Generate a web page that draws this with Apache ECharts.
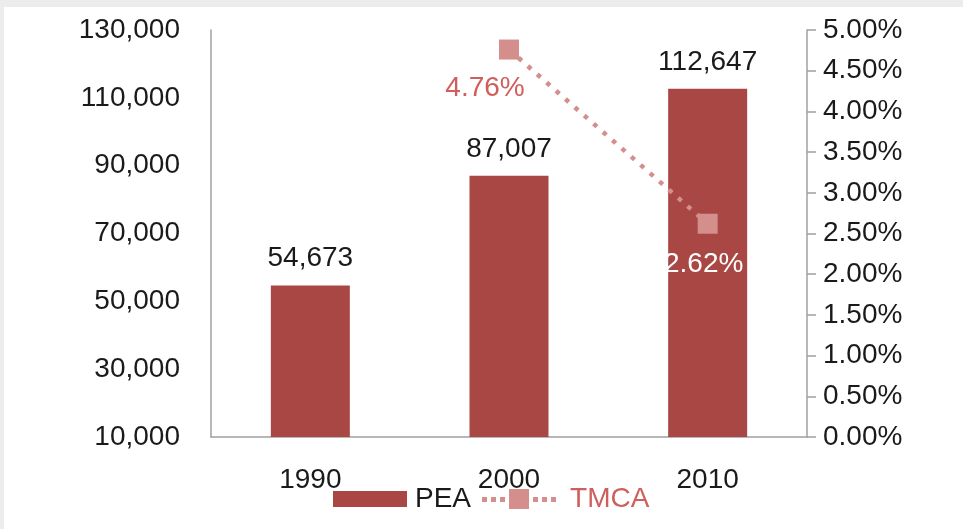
<!DOCTYPE html>
<html>
<head>
<meta charset="utf-8">
<script src="https://cdn.jsdelivr.net/npm/echarts@6/dist/echarts.min.js"></script>
<style>
  html, body { margin: 0; padding: 0; background: #ececec; }
  #main { position: absolute; left: 4px; top: 7px; width: 959px; height: 522px; background: #fff; }
</style>
</head>
<body>
<div id="main"></div>
<script>
// data
const years = ['1990', '2000', '2010'];
const pea = [54673, 87007, 112647];
const tmca = [null, 4.76, 2.62];

const barColor = '#A94744';
const lineColor = '#D48F8D';
const font = 'Liberation Sans, Arial, sans-serif';

// legend icons: plain bar, and dotted line with a square in the middle
const peaIcon = 'path://M0,0h74v16h-74z';
const tmcaIcon = 'path://M0,8h5v5h-5z M9,8h5v5h-5z M18,8h5v5h-5z M27,0h20v20h-20z' +
  ' M51,8h5v5h-5z M60,8h5v5h-5z M69,8h5v5h-5z';

const chart = echarts.init(document.getElementById('main'));

const option = {
  animation: false,
  textStyle: { fontFamily: font },
  grid: { left: 207, right: 156, top: 23, bottom: 92 },
  legend: {
    bottom: 11,
    left: 324,
    itemWidth: 74,
    itemHeight: 20,
    itemGap: 11,
    textStyle: { fontSize: 28, color: '#1a1a1a', fontFamily: font, padding: [0, 0, 0, 3] },
    data: [
      { name: 'PEA', icon: peaIcon },
      { name: 'TMCA', icon: tmcaIcon, textStyle: { color: '#CF5F5C', padding: [0, 0, 0, 9] } }
    ]
  },
  xAxis: {
    type: 'category',
    data: years,
    axisLine: { lineStyle: { color: '#a0a0a0', width: 1.5 } },
    axisTick: { show: false },
    axisLabel: { fontSize: 28, color: '#1a1a1a', margin: 29 }
  },
  yAxis: [
    {
      type: 'value',
      min: 10000,
      max: 130000,
      interval: 20000,
      splitLine: { show: false },
      axisLine: { show: true, lineStyle: { color: '#a0a0a0', width: 1.5 } },
      axisTick: { show: false },
      axisLabel: {
        fontSize: 28,
        color: '#1a1a1a',
        margin: 31,
        formatter: v => v.toLocaleString('en-US')
      }
    },
    {
      type: 'value',
      min: 0,
      max: 5,
      interval: 0.5,
      position: 'right',
      splitLine: { show: false },
      axisLine: { show: true, lineStyle: { color: '#a0a0a0', width: 1.5 } },
      axisTick: { show: true, length: 9, lineStyle: { color: '#a0a0a0', width: 1.5 } },
      axisLabel: {
        fontSize: 28,
        color: '#1a1a1a',
        margin: 16,
        formatter: v => v.toFixed(2) + '%'
      }
    }
  ],
  series: [
    {
      name: 'PEA',
      type: 'bar',
      data: pea,
      barWidth: 79,
      itemStyle: { color: barColor },
      label: {
        show: true,
        position: 'top',
        distance: 13,
        fontSize: 28,
        color: '#1a1a1a',
        formatter: p => p.value.toLocaleString('en-US')
      }
    },
    {
      name: 'TMCA',
      type: 'line',
      yAxisIndex: 1,
      data: [
        tmca[0],
        { value: tmca[1], label: { color: '#CF5F5C', offset: [-24, 0] } },
        { value: tmca[2], label: { color: '#ffffff', offset: [-4, 2] } }
      ],
      symbol: 'rect',
      symbolSize: 20,
      showSymbol: true,
      itemStyle: { color: lineColor },
      lineStyle: { color: lineColor, width: 4.5, type: [4.5, 8] },
      label: {
        show: true,
        position: 'bottom',
        distance: 15,
        fontSize: 28,
        formatter: p => p.value.toFixed(2) + '%'
      }
    }
  ]
};

chart.setOption(option);
</script>
</body>
</html>
